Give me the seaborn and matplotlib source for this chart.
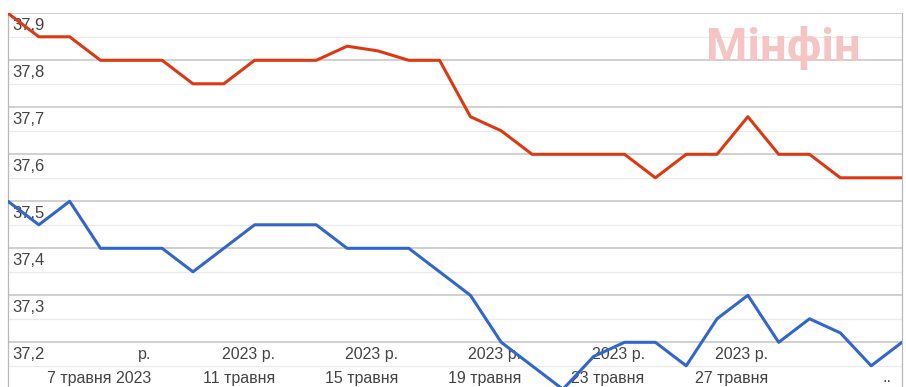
import matplotlib
matplotlib.use("Agg")

import matplotlib.pyplot as plt
import pandas as pd
import seaborn as sns

# ─────────────────────────────────────────────────────────────
# Data
# ─────────────────────────────────────────────────────────────
dates = pd.date_range("2023-05-03", periods=30, freq="D")

sell_rate = [37.90, 37.85, 37.85, 37.80, 37.80, 37.80, 37.75, 37.75, 37.80, 37.80,
             37.80, 37.83, 37.82, 37.80, 37.80, 37.68, 37.65, 37.60, 37.60, 37.60,
             37.60, 37.55, 37.60, 37.60, 37.68, 37.60, 37.60, 37.55, 37.55, 37.55]

buy_rate = [37.50, 37.45, 37.50, 37.40, 37.40, 37.40, 37.35, 37.40, 37.45, 37.45,
            37.45, 37.40, 37.40, 37.40, 37.35, 37.30, 37.20, 37.15, 37.10, 37.17,
            37.20, 37.20, 37.15, 37.25, 37.30, 37.20, 37.25, 37.22, 37.15, 37.20]

y_major = [37.2, 37.3, 37.4, 37.5, 37.6, 37.7, 37.8, 37.9]
y_minor = [37.15, 37.25, 37.35, 37.45, 37.55, 37.65, 37.75, 37.85]
y_labels = ["37,2", "37,3", "37,4", "37,5", "37,6", "37,7", "37,8", "37,9"]

x_label_dates = ["2023-05-07", "2023-05-11", "2023-05-15", "2023-05-19",
                 "2023-05-23", "2023-05-27", "2023-05-31"]
x_label_top = ["р.", "2023 р.", "2023 р.", "2023 р.", "2023 р.", "2023 р.", ""]
x_label_bottom = ["7 травня 2023", "11 травня", "15 травня", "19 травня",
                  "23 травня", "27 травня", ".."]

# ─────────────────────────────────────────────────────────────
# Style
# ─────────────────────────────────────────────────────────────
_PALETTE = {
    "sell": "#dc3912",
    "buy": "#3366cc",
    "major": "#d0d0d0",
    "minor": "#ebebeb",
    "spine": "#b8b8b8",
    "text": "#444444",
    "mark": "#f5c4c4",
}

sns.set_theme(style="white")
plt.rcParams["font.family"] = ["Liberation Sans", "DejaVu Sans"]

df = pd.DataFrame({
    "date": list(dates) * 2,
    "rate": sell_rate + buy_rate,
    "series": ["sell"] * len(sell_rate) + ["buy"] * len(buy_rate),
})

W, H = 906, 387
fig = plt.figure(figsize=(W / 100, H / 100), dpi=100)
top_px, left_px, right_px = 13.3, 8, 902
ax = fig.add_axes([left_px / W, 0, (right_px - left_px) / W, (H - top_px) / H])

sns.lineplot(
    data=df, x="date", y="rate", hue="series",
    palette=[_PALETTE["sell"], _PALETTE["buy"]],
    linewidth=2.2, legend=False, ax=ax, zorder=3,
)

px_per_unit = 470
ax.set_xlim(dates[0], dates[-1])
ax.set_ylim(37.9 - (H - top_px) / px_per_unit, 37.9)

ax.set_yticks(y_major)
ax.set_yticks(y_minor, minor=True)
ax.set_xticks([])
ax.tick_params(axis="y", which="both", length=0, labelleft=False)
ax.yaxis.grid(True, which="major", color=_PALETTE["major"], linewidth=1.4, zorder=0)
ax.yaxis.grid(True, which="minor", color=_PALETTE["minor"], linewidth=0.9, zorder=0)
ax.set_axisbelow(True)
ax.set_xlabel("")
ax.set_ylabel("")

for side in ("top", "bottom"):
    ax.spines[side].set_visible(False)
for side in ("left", "right"):
    ax.spines[side].set_color(_PALETTE["spine"])
    ax.spines[side].set_linewidth(0.9)

# y labels sit inside the plot, just under each major gridline
for val, lab in zip(y_major, y_labels):
    ax.annotate(lab, xy=(0, val), xycoords=("axes fraction", "data"),
                xytext=(3, -9), textcoords="offset points",
                ha="left", va="center", fontsize=12,
                color=_PALETTE["text"], zorder=1)

# two rows of date labels, right-aligned
for d, top, bottom in zip(x_label_dates, x_label_top, x_label_bottom):
    xd = pd.Timestamp(d)
    ax.annotate(top, xy=(xd, 1 - 355 / H), xycoords=("data", "figure fraction"),
                xytext=(14.5, 0), textcoords="offset points",
                ha="right", va="center", fontsize=11.5,
                color=_PALETTE["text"], zorder=1)
    ax.annotate(bottom, xy=(xd, 1 - 378 / H), xycoords=("data", "figure fraction"),
                xytext=(14.5, 0), textcoords="offset points",
                ha="right", va="center", fontsize=11.5,
                color=_PALETTE["text"], zorder=1)

# watermark
fig.text(783 / W, 1 - 61 / H, "Мінфін", ha="center", va="baseline",
         fontsize=34, fontweight="bold", color=_PALETTE["mark"],
         family=["Roboto", "DejaVu Sans"], zorder=0)

fig.savefig("out.png", dpi=100, facecolor="white")
plt.close(fig)
